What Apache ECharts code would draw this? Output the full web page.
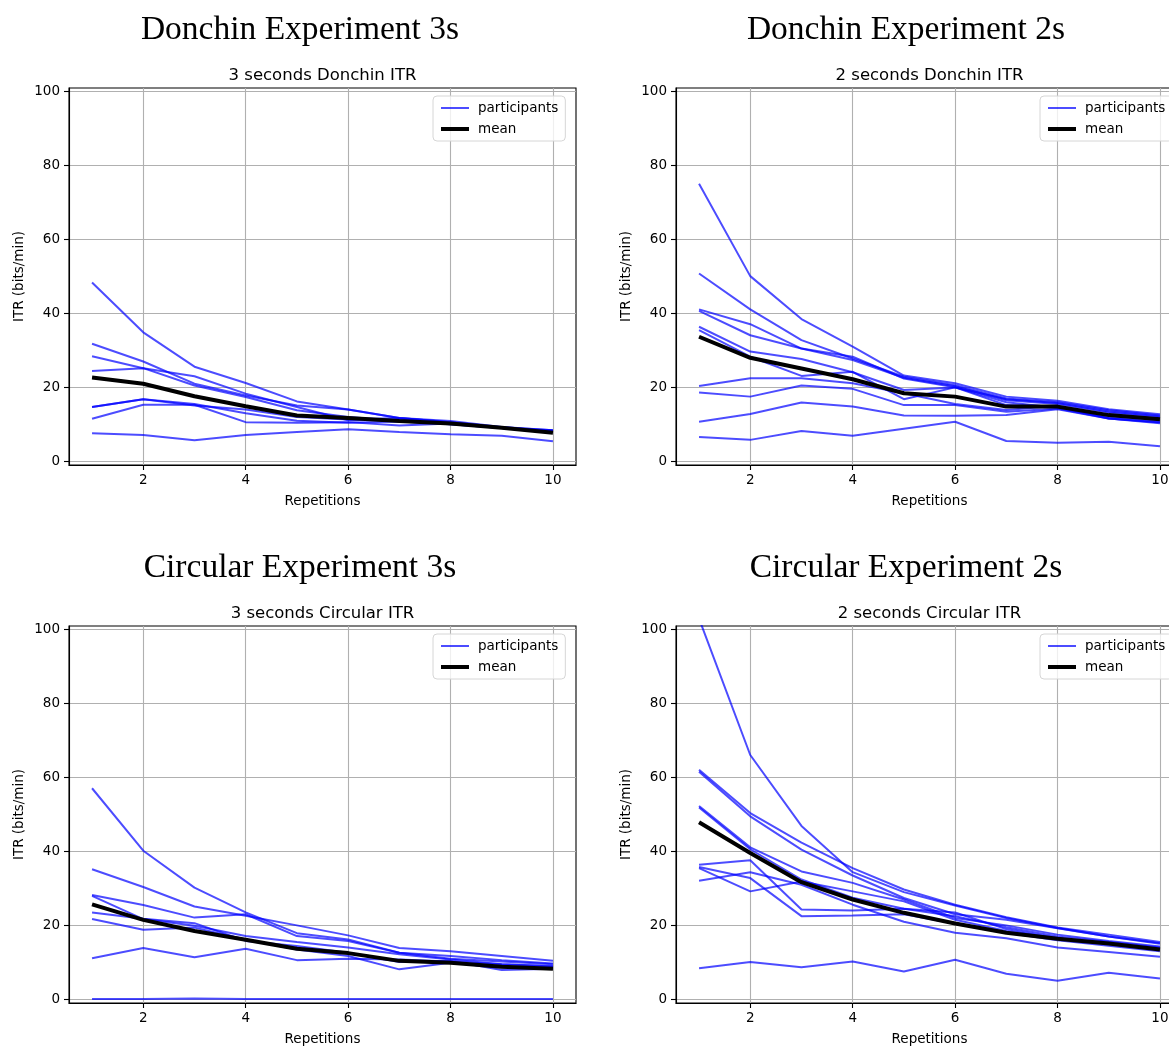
<!DOCTYPE html>
<html><head><meta charset="utf-8">
<script src="https://cdn.jsdelivr.net/npm/echarts@6/dist/echarts.min.js"></script>
<style>html,body{margin:0;padding:0;overflow:hidden;background:#fff;width:1169px;height:1047px}#c{width:1200px;height:1047px}</style>
</head><body><div id="c"></div><script>
const xValues = [1, 2, 3, 4, 5, 6, 7, 8, 9, 10];
const xTicks = [2, 4, 6, 8, 10];
const yTicks = [0, 20, 40, 60, 80, 100];

const donchin3s = [
  [48.4, 34.9, 25.6, 21.2, 16.2, 14.0, 11.7, 10.9, 9.3, 8.4],
  [31.8, 27.0, 21.0, 17.8, 15.1, 14.0, 11.7, 10.6, 9.1, 8.3],
  [28.4, 25.2, 20.5, 17.4, 13.8, 12.0, 11.0, 10.2, 9.0, 8.0],
  [24.4, 25.2, 23.0, 18.3, 14.7, 11.1, 11.3, 10.0, 9.0, 8.2],
  [14.7, 16.8, 15.1, 14.0, 12.0, 11.3, 11.7, 10.6, 9.2, 8.4],
  [14.7, 16.8, 15.5, 13.0, 11.0, 10.4, 10.8, 10.0, 9.0, 8.2],
  [11.5, 15.3, 15.3, 10.6, 10.4, 10.6, 9.7, 10.2, 9.0, 8.0],
  [7.6, 7.1, 5.7, 7.1, 7.9, 8.7, 7.9, 7.3, 6.9, 5.4]
];
const donchin3sMean = [22.7, 21.0, 17.6, 14.9, 12.4, 11.7, 10.9, 10.2, 9.1, 7.7];

const donchin2s = [
  [75.1, 50.1, 38.5, 31.0, 23.2, 21.1, 17.5, 16.4, 14.1, 12.7],
  [50.8, 41.1, 32.8, 27.8, 22.9, 20.6, 17.0, 16.0, 13.8, 12.4],
  [41.1, 37.1, 30.5, 28.3, 22.4, 20.0, 16.8, 15.8, 13.5, 12.2],
  [40.7, 34.1, 30.5, 27.4, 22.6, 20.3, 16.5, 15.5, 13.2, 11.9],
  [36.4, 29.7, 27.7, 24.1, 19.3, 20.0, 15.2, 14.8, 11.6, 10.5],
  [35.5, 28.3, 23.1, 24.2, 16.8, 20.0, 16.0, 14.5, 12.0, 11.0],
  [20.4, 22.5, 22.5, 21.1, 18.4, 15.5, 13.9, 15.0, 12.5, 11.5],
  [18.6, 17.5, 20.5, 19.6, 15.2, 15.2, 13.4, 14.3, 11.6, 10.6],
  [10.7, 12.8, 15.9, 14.8, 12.4, 12.3, 12.5, 14.1, 11.6, 10.3],
  [6.6, 5.8, 8.2, 6.9, 8.8, 10.7, 5.5, 5.0, 5.3, 4.1]
];
const donchin2sMean = [33.7, 28.0, 25.1, 22.2, 18.4, 17.5, 14.8, 14.8, 12.5, 11.4];

const circular3s = [
  [57.1, 40.2, 30.2, 23.5, 17.9, 16.2, 12.6, 11.7, 10.6, 9.7],
  [35.2, 30.4, 25.1, 22.6, 20.0, 17.3, 13.9, 13.0, 11.7, 10.4],
  [28.2, 25.5, 22.1, 23.0, 17.1, 15.8, 12.6, 11.0, 10.2, 9.5],
  [28.0, 21.7, 19.9, 17.1, 15.5, 14.0, 12.2, 10.8, 9.5, 9.0],
  [23.5, 21.8, 20.6, 15.8, 14.4, 12.6, 10.1, 10.4, 7.9, 8.3],
  [21.7, 18.8, 19.4, 16.2, 13.5, 11.7, 8.1, 9.9, 8.6, 8.6],
  [11.1, 13.9, 11.4, 13.7, 10.6, 11.0, 10.8, 10.2, 9.5, 8.9],
  [0.1, 0.1, 0.2, 0.1, 0.1, 0.1, 0.1, 0.1, 0.1, 0.1]
];
const circular3sMean = [25.7, 21.5, 18.5, 16.1, 13.7, 12.5, 10.4, 9.9, 8.8, 8.3];

const circular2s = [
  [103.0, 66.1, 46.9, 34.4, 29.0, 25.4, 22.0, 19.3, 17.0, 15.0],
  [62.1, 50.4, 42.4, 35.5, 29.7, 25.6, 22.2, 19.4, 17.5, 15.5],
  [61.6, 49.5, 40.5, 33.5, 27.4, 23.0, 21.5, 19.2, 17.0, 15.2],
  [52.3, 41.1, 34.6, 31.5, 27.0, 22.0, 20.0, 17.5, 15.8, 14.3],
  [51.9, 40.6, 32.4, 27.5, 24.5, 22.5, 19.5, 17.0, 15.5, 14.0],
  [36.4, 37.6, 24.3, 24.0, 24.5, 23.5, 19.0, 16.5, 15.0, 13.5],
  [35.8, 32.8, 22.5, 22.7, 23.0, 20.5, 18.0, 16.0, 14.5, 13.0],
  [35.5, 29.2, 31.9, 29.2, 26.5, 21.5, 18.5, 16.5, 15.0, 13.8],
  [32.1, 34.4, 31.0, 25.6, 21.0, 18.0, 16.5, 14.0, 12.8, 11.5],
  [8.4, 10.1, 8.7, 10.2, 7.5, 10.7, 6.9, 5.0, 7.2, 5.6]
];
const circular2sMean = [47.9, 39.6, 31.7, 27.0, 23.4, 20.5, 18.0, 16.4, 15.1, 13.5];

const supTitles = ['Donchin Experiment 3s', 'Donchin Experiment 2s', 'Circular Experiment 3s', 'Circular Experiment 2s'];
const subTitles = ['3 seconds Donchin ITR', '2 seconds Donchin ITR', '3 seconds Circular ITR', '2 seconds Circular ITR'];
const xLabel = 'Repetitions';
const yLabel = 'ITR (bits/min)';

const panelParts = [donchin3s, donchin2s, circular3s, circular2s];
const panelMeans = [donchin3sMean, donchin2sMean, circular3sMean, circular2sMean];

const gridPos = [[69, 88], [676, 88], [69, 626], [676, 626]];
const gw = 507, gh = 377;
const supCenters = [300, 906];

const sans = 'DejaVu Sans';
const tickFont = {color: '#000', fontSize: 13.5, fontFamily: sans};
const partColor = 'rgba(0,0,255,0.7)';

const option = {
  animation: false,
  backgroundColor: '#fff',
  title: [], grid: [], xAxis: [], yAxis: [], legend: [], series: []
};

panelParts.forEach((parts, i) => {
  const [gl, gt] = gridPos[i];
  const col = i % 2;
  option.title.push({
    text: supTitles[i], left: supCenters[col], top: gt - 75, textAlign: 'center', padding: 0,
    textStyle: {fontFamily: 'Liberation Serif', fontSize: 33.5, fontWeight: 'normal', color: '#000'}
  });
  option.title.push({
    text: subTitles[i], left: gl + gw / 2, top: gt - 21, textAlign: 'center', padding: 0,
    textStyle: {fontFamily: sans, fontSize: 16.5, fontWeight: 'normal', color: '#000'}
  });
  option.grid.push({left: gl, top: gt, width: gw, height: gh, show: true, borderColor: '#000', borderWidth: 1.1, containLabel: false});
  option.xAxis.push({
    gridIndex: i, type: 'value', min: 0.55, max: 10.45,
    axisLine: {show: true, onZero: false, lineStyle: {color: '#000', width: 1.1}},
    axisTick: {show: true, inside: false, length: 5, customValues: xTicks, lineStyle: {color: '#000', width: 1.1}},
    axisLabel: Object.assign({customValues: xTicks, margin: 8}, tickFont),
    splitLine: {show: true, lineStyle: {color: '#b0b0b0', width: 1.1}},
    name: xLabel, nameLocation: 'middle', nameGap: 29,
    nameTextStyle: tickFont
  });
  option.yAxis.push({
    gridIndex: i, type: 'value', min: -1, max: 101,
    axisLine: {show: true, onZero: false, lineStyle: {color: '#000', width: 1.1}},
    axisTick: {show: true, inside: false, length: 5, customValues: yTicks, lineStyle: {color: '#000', width: 1.1}},
    axisLabel: Object.assign({customValues: yTicks, margin: 9}, tickFont),
    splitLine: {show: true, lineStyle: {color: '#b0b0b0', width: 1.1}},
    name: yLabel, nameLocation: 'middle', nameGap: 43,
    nameTextStyle: tickFont
  });
  option.legend.push({
    orient: 'vertical', left: gl + gw - 143, top: gt + 8,
    padding: [5, 7, 5, 6], itemWidth: 28, itemHeight: 14, itemGap: 7,
    backgroundColor: 'rgba(255,255,255,0.8)', borderColor: '#d6d6d6', borderWidth: 1, borderRadius: 4,
    textStyle: {color: '#000', fontSize: 13.5, fontFamily: sans, padding: [0, 0, 0, 4]},
    selectedMode: false,
    data: [
      {name: 'participants', itemStyle: {opacity: 0}, lineStyle: {width: 2, color: partColor}},
      {name: 'mean', itemStyle: {opacity: 0}, lineStyle: {width: 4, color: '#000'}}
    ]
  });
  parts.forEach(arr => {
    option.series.push({
      type: 'line', name: 'participants', xAxisIndex: i, yAxisIndex: i,
      data: xValues.map((x, j) => [x, arr[j]]),
      symbol: 'none', silent: true,
      lineStyle: {color: partColor, width: 2},
      itemStyle: {color: partColor}
    });
  });
  option.series.push({
    type: 'line', name: 'mean', xAxisIndex: i, yAxisIndex: i,
    data: xValues.map((x, j) => [x, panelMeans[i][j]]),
    symbol: 'none', silent: true, z: 3,
    lineStyle: {color: '#000', width: 4},
    itemStyle: {color: '#000'}
  });
});

const chart = echarts.init(document.getElementById('c'), null, {renderer: 'canvas'});
chart.setOption(option);
</script></body></html>
